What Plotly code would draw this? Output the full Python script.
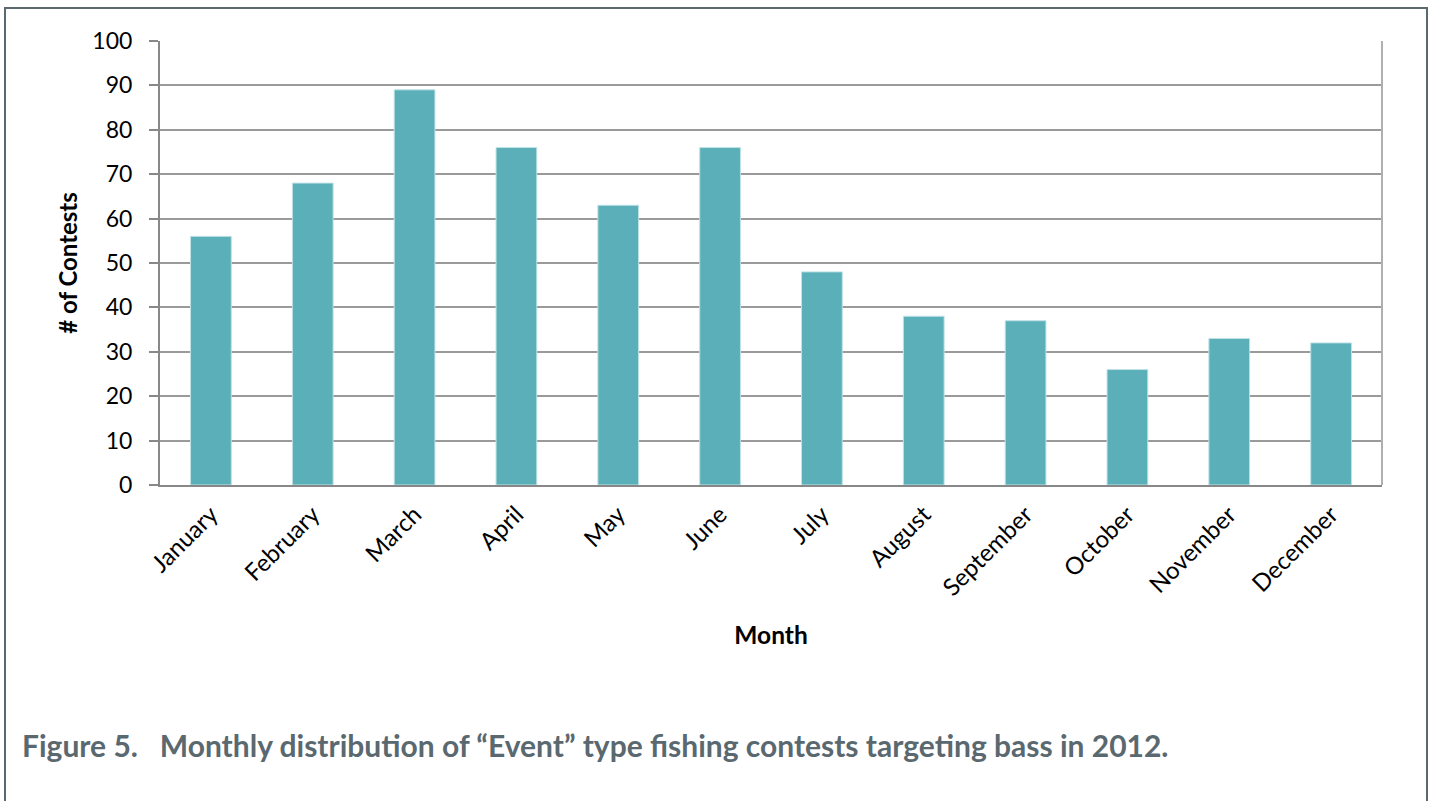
import plotly.graph_objects as go

months = ["January", "February", "March", "April", "May", "June", "July",
          "August", "September", "October", "November", "December"]
contests = [56, 68, 89, 76, 63, 76, 48, 38, 37, 26, 33, 32]
y_ticks = [0, 10, 20, 30, 40, 50, 60, 70, 80, 90, 100]

W, H = 1430, 801
L, R, T, B = 160, 48, 41, 316
pw, ph = W - L - R, H - T - B

def px(x):
    return (x - L) / pw

def py(y):
    return (H - B - y) / ph

fig = go.Figure()
fig.add_trace(go.Bar(
    x=months, y=contests,
    marker=dict(color="#5aafb8", line=dict(color="#bfe2e6", width=1)),
    width=0.4,
))

font = "Lato, Calibri, Carlito, sans-serif"
fig.update_layout(
    width=W, height=H,
    margin=dict(l=L, r=R, t=T, b=B),
    paper_bgcolor="white", plot_bgcolor="white",
    showlegend=False,
    font=dict(family=font, color="#000000"),
    xaxis=dict(
        tickangle=-45, tickfont=dict(size=24, color="#000"),
        showgrid=False, showline=True, linecolor="#888888", linewidth=2,
        mirror=False, ticks="", ticklabelstandoff=4,
        title=dict(text="<b>Month</b>", font=dict(size=24.5), standoff=27),
    ),
    yaxis=dict(
        range=[0, 100], tickvals=y_ticks, tickfont=dict(size=23, color="#000"),
        showgrid=True, gridcolor="#9a9a9a", gridwidth=2,
        showline=True, linecolor="#888888", linewidth=2, mirror=False,
        ticks="outside", ticklen=9, tickcolor="#888888", tickwidth=2,
        ticklabelstandoff=12,
        zeroline=False,
        title=dict(text="<b># of Contests</b>", font=dict(size=24), standoff=8),
    ),
    shapes=[
        dict(type="line", xref="paper", yref="paper", x0=1, x1=1, y0=0, y1=1,
             line=dict(color="#b0b0b0", width=2)),
        dict(type="rect", xref="paper", yref="paper",
             x0=px(5), x1=px(1427), y0=py(8), y1=py(830),
             line=dict(color="#5a6870", width=2), fillcolor="rgba(0,0,0,0)",
             layer="below"),
    ],
    annotations=[
        dict(text="<b>Figure 5.   Monthly distribution of \u201cEvent\u201d type fishing contests targeting bass in 2012.</b>",
             xref="paper", yref="paper", x=px(20), y=py(745),
             xanchor="left", yanchor="middle", showarrow=False,
             font=dict(size=30, color="#5a6870", family=font)),
    ],
)

fig.write_html("out.html", config={"displayModeBar": False},
               post_script="document.body.style.margin='0px';document.body.style.overflow='hidden';")
